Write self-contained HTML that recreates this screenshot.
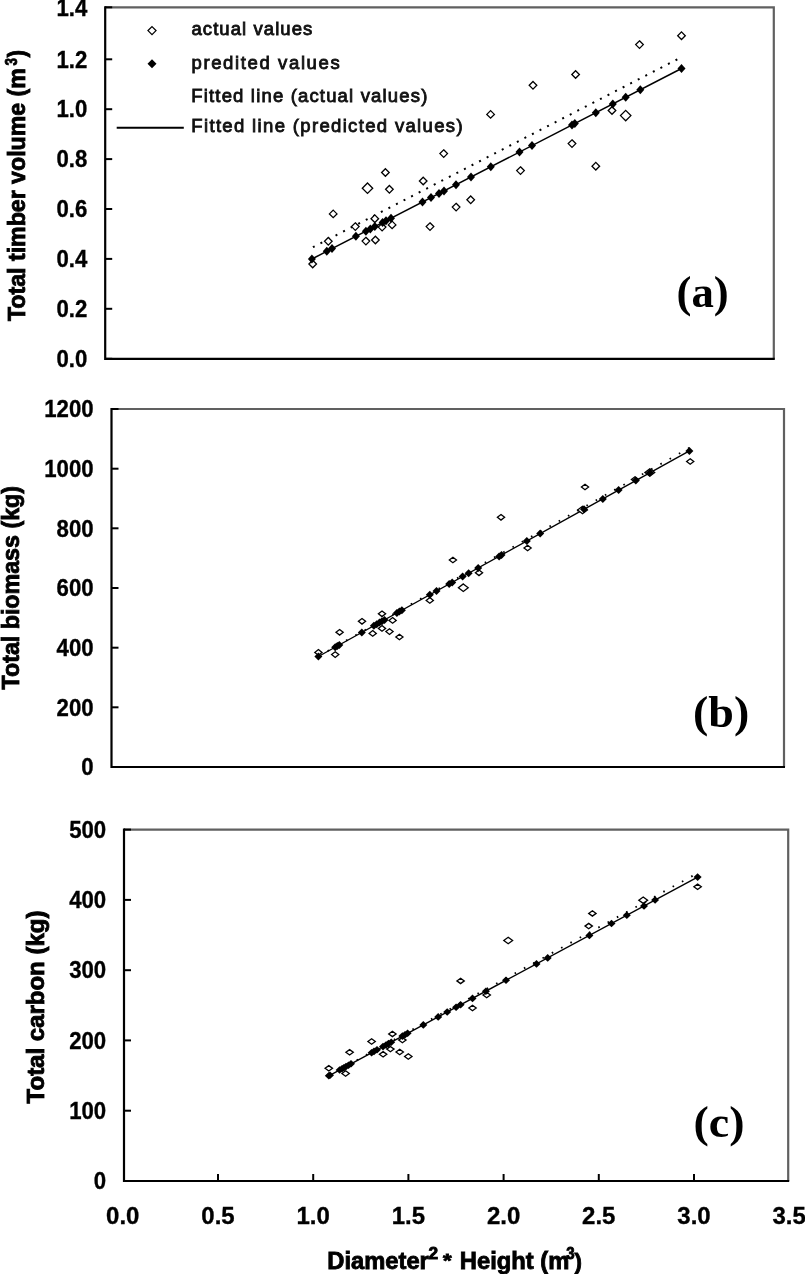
<!DOCTYPE html>
<html><head><meta charset="utf-8"><title>Figure</title><style>
html,body{margin:0;padding:0;background:#fff;}
body{width:805px;height:1274px;overflow:hidden;}
svg{display:block;filter:blur(0.3px);}
.tk{font-family:'Liberation Sans', Arial, sans-serif;font-weight:bold;font-size:24.0px;fill:#000;stroke:#000;stroke-width:0.35px;}
.ttl{font-family:'Liberation Sans', Arial, sans-serif;font-weight:bold;font-size:23px;fill:#000;stroke:#000;stroke-width:0.85px;}
.lg{font-family:'Liberation Sans', Arial, sans-serif;font-weight:normal;font-size:18.5px;fill:#111;stroke:#111;stroke-width:0.85px;}
.pl{font-family:'Liberation Serif', 'Times New Roman', serif;font-weight:bold;font-size:46px;fill:#000;}
</style></head>
<body><svg width="805" height="1274" viewBox="0 0 805 1274">
<rect width="805" height="1274" fill="#fff"/>
<path d="M105.2 7.3H773.8V358.8" fill="none" stroke="#606060" stroke-width="2.2"/>
<path d="M105.2 6.3V358.8H774.8" fill="none" stroke="#000" stroke-width="2.2"/>
<path d="M111.5 409.0H784.0V767.0" fill="none" stroke="#606060" stroke-width="2.2"/>
<path d="M111.5 408.0V767.0H785.0" fill="none" stroke="#000" stroke-width="2.2"/>
<path d="M124.0 829.6H788.2V1181.0" fill="none" stroke="#606060" stroke-width="2.2"/>
<path d="M124.0 828.6V1181.0H789.2" fill="none" stroke="#000" stroke-width="2.2"/>
<line x1="105.2" y1="7.3" x2="112.2" y2="7.3" stroke="#000" stroke-width="2"/>
<text transform="translate(87.3,15.5) scale(0.925,1)" text-anchor="end" class="tk">1.4</text>
<line x1="105.2" y1="59.3" x2="112.2" y2="59.3" stroke="#000" stroke-width="2"/>
<text transform="translate(87.3,67.5) scale(0.925,1)" text-anchor="end" class="tk">1.2</text>
<line x1="105.2" y1="109.2" x2="112.2" y2="109.2" stroke="#000" stroke-width="2"/>
<text transform="translate(87.3,117.4) scale(0.925,1)" text-anchor="end" class="tk">1.0</text>
<line x1="105.2" y1="159.1" x2="112.2" y2="159.1" stroke="#000" stroke-width="2"/>
<text transform="translate(87.3,167.3) scale(0.925,1)" text-anchor="end" class="tk">0.8</text>
<line x1="105.2" y1="209.0" x2="112.2" y2="209.0" stroke="#000" stroke-width="2"/>
<text transform="translate(87.3,217.2) scale(0.925,1)" text-anchor="end" class="tk">0.6</text>
<line x1="105.2" y1="258.9" x2="112.2" y2="258.9" stroke="#000" stroke-width="2"/>
<text transform="translate(87.3,267.1) scale(0.925,1)" text-anchor="end" class="tk">0.4</text>
<line x1="105.2" y1="308.8" x2="112.2" y2="308.8" stroke="#000" stroke-width="2"/>
<text transform="translate(87.3,317.0) scale(0.925,1)" text-anchor="end" class="tk">0.2</text>
<line x1="105.2" y1="358.8" x2="112.2" y2="358.8" stroke="#000" stroke-width="2"/>
<text transform="translate(87.3,367.0) scale(0.925,1)" text-anchor="end" class="tk">0.0</text>
<line x1="111.5" y1="767.0" x2="118.5" y2="767.0" stroke="#000" stroke-width="2"/>
<text transform="translate(93.6,775.2) scale(0.925,1)" text-anchor="end" class="tk">0</text>
<line x1="111.5" y1="707.3" x2="118.5" y2="707.3" stroke="#000" stroke-width="2"/>
<text transform="translate(93.6,715.5) scale(0.925,1)" text-anchor="end" class="tk">200</text>
<line x1="111.5" y1="647.7" x2="118.5" y2="647.7" stroke="#000" stroke-width="2"/>
<text transform="translate(93.6,655.9) scale(0.925,1)" text-anchor="end" class="tk">400</text>
<line x1="111.5" y1="588.0" x2="118.5" y2="588.0" stroke="#000" stroke-width="2"/>
<text transform="translate(93.6,596.2) scale(0.925,1)" text-anchor="end" class="tk">600</text>
<line x1="111.5" y1="528.3" x2="118.5" y2="528.3" stroke="#000" stroke-width="2"/>
<text transform="translate(93.6,536.5) scale(0.925,1)" text-anchor="end" class="tk">800</text>
<line x1="111.5" y1="468.7" x2="118.5" y2="468.7" stroke="#000" stroke-width="2"/>
<text transform="translate(93.6,476.9) scale(0.925,1)" text-anchor="end" class="tk">1000</text>
<line x1="111.5" y1="409.0" x2="118.5" y2="409.0" stroke="#000" stroke-width="2"/>
<text transform="translate(93.6,417.2) scale(0.925,1)" text-anchor="end" class="tk">1200</text>
<line x1="124.0" y1="1181.0" x2="131.0" y2="1181.0" stroke="#000" stroke-width="2"/>
<text transform="translate(106.2,1189.2) scale(0.925,1)" text-anchor="end" class="tk">0</text>
<line x1="124.0" y1="1110.7" x2="131.0" y2="1110.7" stroke="#000" stroke-width="2"/>
<text transform="translate(106.2,1118.9) scale(0.925,1)" text-anchor="end" class="tk">100</text>
<line x1="124.0" y1="1040.4" x2="131.0" y2="1040.4" stroke="#000" stroke-width="2"/>
<text transform="translate(106.2,1048.6) scale(0.925,1)" text-anchor="end" class="tk">200</text>
<line x1="124.0" y1="970.2" x2="131.0" y2="970.2" stroke="#000" stroke-width="2"/>
<text transform="translate(106.2,978.4) scale(0.925,1)" text-anchor="end" class="tk">300</text>
<line x1="124.0" y1="899.9" x2="131.0" y2="899.9" stroke="#000" stroke-width="2"/>
<text transform="translate(106.2,908.1) scale(0.925,1)" text-anchor="end" class="tk">400</text>
<line x1="124.0" y1="829.6" x2="131.0" y2="829.6" stroke="#000" stroke-width="2"/>
<text transform="translate(106.2,837.8) scale(0.925,1)" text-anchor="end" class="tk">500</text>
<text transform="translate(122.8,1224.0) scale(1.0,0.98)" text-anchor="middle" class="tk">0.0</text>
<line x1="218.0" y1="1181" x2="218.0" y2="1174.0" stroke="#000" stroke-width="2"/>
<text transform="translate(218.0,1224.0) scale(1.0,0.98)" text-anchor="middle" class="tk">0.5</text>
<line x1="313.2" y1="1181" x2="313.2" y2="1174.0" stroke="#000" stroke-width="2"/>
<text transform="translate(313.2,1224.0) scale(1.0,0.98)" text-anchor="middle" class="tk">1.0</text>
<line x1="408.4" y1="1181" x2="408.4" y2="1174.0" stroke="#000" stroke-width="2"/>
<text transform="translate(408.4,1224.0) scale(1.0,0.98)" text-anchor="middle" class="tk">1.5</text>
<line x1="503.6" y1="1181" x2="503.6" y2="1174.0" stroke="#000" stroke-width="2"/>
<text transform="translate(503.6,1224.0) scale(1.0,0.98)" text-anchor="middle" class="tk">2.0</text>
<line x1="598.8" y1="1181" x2="598.8" y2="1174.0" stroke="#000" stroke-width="2"/>
<text transform="translate(598.8,1224.0) scale(1.0,0.98)" text-anchor="middle" class="tk">2.5</text>
<line x1="694.0" y1="1181" x2="694.0" y2="1174.0" stroke="#000" stroke-width="2"/>
<text transform="translate(694.0,1224.0) scale(1.0,0.98)" text-anchor="middle" class="tk">3.0</text>
<text transform="translate(789.2,1224.0) scale(1.0,0.98)" text-anchor="middle" class="tk">3.5</text>
<text class="ttl" style="font-size:23px" transform="translate(25.1,321.1) rotate(-90)" textLength="253.0" lengthAdjust="spacingAndGlyphs">Total timber volume (m</text>
<text class="ttl" style="font-size:16.5px" transform="translate(16.6,65.4) rotate(-90)" textLength="7.5" lengthAdjust="spacingAndGlyphs">3</text>
<text class="ttl" style="font-size:23px" transform="translate(25.1,57.6) rotate(-90)" textLength="7.6" lengthAdjust="spacingAndGlyphs">)</text>
<text class="ttl" style="font-size:23px" transform="translate(19.0,689.5) rotate(-90)" textLength="203.5" lengthAdjust="spacingAndGlyphs">Total biomass (kg)</text>
<text class="ttl" style="font-size:23px" transform="translate(43.9,1103.4) rotate(-90)" textLength="192.8" lengthAdjust="spacingAndGlyphs">Total carbon (kg)</text>
<text class="ttl" style="font-size:23.5px" x="327.3" y="1269.0" textLength="101.5" lengthAdjust="spacingAndGlyphs">Diameter</text>
<text class="ttl" style="font-size:16px" x="428.4" y="1258.8" textLength="9.6" lengthAdjust="spacingAndGlyphs">2</text>
<text class="ttl" style="font-size:18px" x="443.0" y="1266.5" textLength="8.6" lengthAdjust="spacingAndGlyphs">*</text>
<text class="ttl" style="font-size:23.5px" x="459.8" y="1269.0" textLength="109.5" lengthAdjust="spacingAndGlyphs">Height (m</text>
<text class="ttl" style="font-size:16px" x="566.2" y="1259.0" textLength="8.4" lengthAdjust="spacingAndGlyphs">3</text>
<text class="ttl" style="font-size:22px" x="574.6" y="1269.0" textLength="7.4" lengthAdjust="spacingAndGlyphs">)</text>
<text class="pl" transform="translate(676.5,307.3) scale(0.975,0.95)">(a)</text>
<text class="pl" transform="translate(693.0,726.6) scale(1.0,0.94)">(b)</text>
<text class="pl" transform="translate(693.5,1136.6) scale(1.0,0.94)">(c)</text>
<path d="M152.0 26.6L156.0 30.6L152.0 34.6L148.0 30.6Z" fill="#fff" stroke="#000" stroke-width="1.3"/>
<path d="M152.0 59.3L156.5 63.8L152.0 68.3L147.5 63.8Z" fill="#000"/>
<line x1="116.7" y1="127.8" x2="183.8" y2="127.8" stroke="#000" stroke-width="2"/>
<text class="lg" x="191.5" y="35.2" textLength="120.8" lengthAdjust="spacing">actual values</text>
<text class="lg" x="191.5" y="69.0" textLength="148.2" lengthAdjust="spacing">predited values</text>
<text class="lg" x="191.3" y="102.2" textLength="236.0" lengthAdjust="spacing">Fitted line (actual values)</text>
<text class="lg" x="191.3" y="132.4" textLength="271.3" lengthAdjust="spacing">Fitted line (predicted values)</text>
<line x1="312.9" y1="247.2" x2="679.5" y2="58.2" stroke="#000" stroke-width="2" stroke-dasharray="2 6.5"/>
<line x1="311.9" y1="259.0" x2="681.5" y2="68.5" stroke="#000" stroke-width="1.45"/>
<path d="M312.7 260.2L316.5 264.0L312.7 267.8L308.9 264.0Z" fill="#fff" stroke="#000" stroke-width="1.3"/>
<path d="M328.3 237.5L332.1 241.3L328.3 245.1L324.5 241.3Z" fill="#fff" stroke="#000" stroke-width="1.3"/>
<path d="M333.2 210.1L337.0 213.9L333.2 217.7L329.4 213.9Z" fill="#fff" stroke="#000" stroke-width="1.3"/>
<path d="M355.3 222.8L359.1 226.6L355.3 230.4L351.5 226.6Z" fill="#fff" stroke="#000" stroke-width="1.3"/>
<path d="M367.5 183.0L372.7 188.2L367.5 193.4L362.3 188.2Z" fill="#fff" stroke="#000" stroke-width="1.3"/>
<path d="M365.9 237.3L369.7 241.1L365.9 244.9L362.1 241.1Z" fill="#fff" stroke="#000" stroke-width="1.3"/>
<path d="M374.8 214.9L378.6 218.7L374.8 222.5L371.0 218.7Z" fill="#fff" stroke="#000" stroke-width="1.3"/>
<path d="M375.4 236.2L379.2 240.0L375.4 243.8L371.6 240.0Z" fill="#fff" stroke="#000" stroke-width="1.3"/>
<path d="M382.1 223.3L385.9 227.1L382.1 230.9L378.3 227.1Z" fill="#fff" stroke="#000" stroke-width="1.3"/>
<path d="M385.4 168.7L389.2 172.5L385.4 176.3L381.6 172.5Z" fill="#fff" stroke="#000" stroke-width="1.3"/>
<path d="M389.4 185.5L393.2 189.3L389.4 193.1L385.6 189.3Z" fill="#fff" stroke="#000" stroke-width="1.3"/>
<path d="M392.1 221.1L395.9 224.9L392.1 228.7L388.3 224.9Z" fill="#fff" stroke="#000" stroke-width="1.3"/>
<path d="M423.2 177.2L427.0 181.0L423.2 184.8L419.4 181.0Z" fill="#fff" stroke="#000" stroke-width="1.3"/>
<path d="M430.0 222.8L433.8 226.6L430.0 230.4L426.2 226.6Z" fill="#fff" stroke="#000" stroke-width="1.3"/>
<path d="M443.7 149.8L447.5 153.6L443.7 157.4L439.9 153.6Z" fill="#fff" stroke="#000" stroke-width="1.3"/>
<path d="M456.1 203.3L459.9 207.1L456.1 210.9L452.3 207.1Z" fill="#fff" stroke="#000" stroke-width="1.3"/>
<path d="M470.7 196.0L474.5 199.8L470.7 203.6L466.9 199.8Z" fill="#fff" stroke="#000" stroke-width="1.3"/>
<path d="M490.6 110.6L494.4 114.4L490.6 118.2L486.8 114.4Z" fill="#fff" stroke="#000" stroke-width="1.3"/>
<path d="M520.5 166.8L524.3 170.6L520.5 174.4L516.7 170.6Z" fill="#fff" stroke="#000" stroke-width="1.3"/>
<path d="M533.0 81.5L536.8 85.3L533.0 89.1L529.2 85.3Z" fill="#fff" stroke="#000" stroke-width="1.3"/>
<path d="M572.0 139.8L575.8 143.6L572.0 147.4L568.2 143.6Z" fill="#fff" stroke="#000" stroke-width="1.3"/>
<path d="M575.6 70.7L579.4 74.5L575.6 78.3L571.8 74.5Z" fill="#fff" stroke="#000" stroke-width="1.3"/>
<path d="M595.8 162.4L599.6 166.2L595.8 170.0L592.0 166.2Z" fill="#fff" stroke="#000" stroke-width="1.3"/>
<path d="M612.0 106.7L615.8 110.5L612.0 114.3L608.2 110.5Z" fill="#fff" stroke="#000" stroke-width="1.3"/>
<path d="M625.7 110.4L630.9 115.6L625.7 120.8L620.5 115.6Z" fill="#fff" stroke="#000" stroke-width="1.3"/>
<path d="M639.5 40.8L643.3 44.6L639.5 48.4L635.7 44.6Z" fill="#fff" stroke="#000" stroke-width="1.3"/>
<path d="M681.5 31.9L685.3 35.7L681.5 39.5L677.7 35.7Z" fill="#fff" stroke="#000" stroke-width="1.3"/>
<path d="M311.9 254.5L315.9 259.0L311.9 263.5L307.9 259.0Z" fill="#000"/>
<path d="M326.8 246.8L330.8 251.3L326.8 255.8L322.8 251.3Z" fill="#000"/>
<path d="M332.0 244.1L336.0 248.6L332.0 253.1L328.0 248.6Z" fill="#000"/>
<path d="M355.9 231.8L359.9 236.3L355.9 240.8L351.9 236.3Z" fill="#000"/>
<path d="M365.9 226.7L369.9 231.2L365.9 235.7L361.9 231.2Z" fill="#000"/>
<path d="M370.3 224.4L374.3 228.9L370.3 233.4L366.3 228.9Z" fill="#000"/>
<path d="M374.8 222.1L378.8 226.6L374.8 231.1L370.8 226.6Z" fill="#000"/>
<path d="M382.6 218.1L386.6 222.6L382.6 227.1L378.6 222.6Z" fill="#000"/>
<path d="M386.0 216.3L390.0 220.8L386.0 225.3L382.0 220.8Z" fill="#000"/>
<path d="M391.0 213.7L395.0 218.2L391.0 222.7L387.0 218.2Z" fill="#000"/>
<path d="M422.5 197.5L426.5 202.0L422.5 206.5L418.5 202.0Z" fill="#000"/>
<path d="M431.0 193.1L435.0 197.6L431.0 202.1L427.0 197.6Z" fill="#000"/>
<path d="M439.0 189.0L443.0 193.5L439.0 198.0L435.0 193.5Z" fill="#000"/>
<path d="M444.0 186.4L448.0 190.9L444.0 195.4L440.0 190.9Z" fill="#000"/>
<path d="M456.0 180.2L460.0 184.7L456.0 189.2L452.0 184.7Z" fill="#000"/>
<path d="M471.0 172.5L475.0 177.0L471.0 181.5L467.0 177.0Z" fill="#000"/>
<path d="M490.8 162.3L494.8 166.8L490.8 171.3L486.8 166.8Z" fill="#000"/>
<path d="M519.5 147.5L523.5 152.0L519.5 156.5L515.5 152.0Z" fill="#000"/>
<path d="M532.0 141.1L536.0 145.6L532.0 150.1L528.0 145.6Z" fill="#000"/>
<path d="M572.0 120.4L576.0 124.9L572.0 129.4L568.0 124.9Z" fill="#000"/>
<path d="M574.8 119.0L578.8 123.5L574.8 128.0L570.8 123.5Z" fill="#000"/>
<path d="M595.8 108.2L599.8 112.7L595.8 117.2L591.8 112.7Z" fill="#000"/>
<path d="M612.8 99.4L616.8 103.9L612.8 108.4L608.8 103.9Z" fill="#000"/>
<path d="M625.7 92.8L629.7 97.3L625.7 101.8L621.7 97.3Z" fill="#000"/>
<path d="M640.3 85.2L644.3 89.7L640.3 94.2L636.3 89.7Z" fill="#000"/>
<path d="M681.5 64.0L685.5 68.5L681.5 73.0L677.5 68.5Z" fill="#000"/>
<line x1="318.4" y1="656.2" x2="689.4" y2="447.9" stroke="#000" stroke-width="1.8" stroke-dasharray="1.6 9"/>
<line x1="318.4" y1="656.5" x2="689.4" y2="450.9" stroke="#000" stroke-width="1.4"/>
<path d="M318.4 649.6L322.0 652.4L318.4 655.2L314.8 652.4Z" fill="#fff" stroke="#000" stroke-width="1.3"/>
<path d="M335.2 651.8L338.8 654.6L335.2 657.4L331.6 654.6Z" fill="#fff" stroke="#000" stroke-width="1.3"/>
<path d="M339.6 629.5L343.2 632.3L339.6 635.1L336.0 632.3Z" fill="#fff" stroke="#000" stroke-width="1.3"/>
<path d="M362.0 618.5L365.6 621.3L362.0 624.1L358.4 621.3Z" fill="#fff" stroke="#000" stroke-width="1.3"/>
<path d="M372.7 630.6L376.3 633.4L372.7 636.2L369.1 633.4Z" fill="#fff" stroke="#000" stroke-width="1.3"/>
<path d="M382.0 611.0L385.6 613.8L382.0 616.6L378.4 613.8Z" fill="#fff" stroke="#000" stroke-width="1.3"/>
<path d="M382.0 625.6L385.6 628.4L382.0 631.2L378.4 628.4Z" fill="#fff" stroke="#000" stroke-width="1.3"/>
<path d="M389.5 628.8L393.1 631.6L389.5 634.4L385.9 631.6Z" fill="#fff" stroke="#000" stroke-width="1.3"/>
<path d="M392.6 617.6L396.2 620.4L392.6 623.2L389.0 620.4Z" fill="#fff" stroke="#000" stroke-width="1.3"/>
<path d="M399.4 634.2L403.0 637.0L399.4 639.8L395.8 637.0Z" fill="#fff" stroke="#000" stroke-width="1.3"/>
<path d="M429.8 597.6L433.4 600.4L429.8 603.2L426.2 600.4Z" fill="#fff" stroke="#000" stroke-width="1.3"/>
<path d="M452.9 557.2L456.5 560.0L452.9 562.8L449.3 560.0Z" fill="#fff" stroke="#000" stroke-width="1.3"/>
<path d="M463.3 583.9L468.2 587.7L463.3 591.5L458.4 587.7Z" fill="#fff" stroke="#000" stroke-width="1.3"/>
<path d="M479.0 570.0L482.6 572.8L479.0 575.6L475.4 572.8Z" fill="#fff" stroke="#000" stroke-width="1.3"/>
<path d="M501.0 514.5L504.6 517.3L501.0 520.1L497.4 517.3Z" fill="#fff" stroke="#000" stroke-width="1.3"/>
<path d="M527.6 545.2L531.2 548.0L527.6 550.8L524.0 548.0Z" fill="#fff" stroke="#000" stroke-width="1.3"/>
<path d="M582.5 506.2L587.4 510.0L582.5 513.8L577.6 510.0Z" fill="#fff" stroke="#000" stroke-width="1.3"/>
<path d="M585.0 484.2L588.6 487.0L585.0 489.8L581.4 487.0Z" fill="#fff" stroke="#000" stroke-width="1.3"/>
<path d="M635.0 476.7L638.6 479.5L635.0 482.3L631.4 479.5Z" fill="#fff" stroke="#000" stroke-width="1.3"/>
<path d="M649.8 468.7L654.7 472.5L649.8 476.3L644.9 472.5Z" fill="#fff" stroke="#000" stroke-width="1.3"/>
<path d="M690.2 458.7L693.8 461.5L690.2 464.3L686.6 461.5Z" fill="#fff" stroke="#000" stroke-width="1.3"/>
<path d="M318.4 652.5L322.4 656.5L318.4 660.5L314.4 656.5Z" fill="#000"/>
<path d="M335.2 643.2L339.2 647.2L335.2 651.2L331.2 647.2Z" fill="#000"/>
<path d="M337.3 642.0L341.3 646.0L337.3 650.0L333.3 646.0Z" fill="#000"/>
<path d="M339.3 640.9L343.3 644.9L339.3 648.9L335.3 644.9Z" fill="#000"/>
<path d="M361.8 628.4L365.8 632.4L361.8 636.4L357.8 632.4Z" fill="#000"/>
<path d="M373.9 621.7L377.9 625.7L373.9 629.7L369.9 625.7Z" fill="#000"/>
<path d="M376.7 620.2L380.7 624.2L376.7 628.2L372.7 624.2Z" fill="#000"/>
<path d="M379.5 618.6L383.5 622.6L379.5 626.6L375.5 622.6Z" fill="#000"/>
<path d="M382.0 617.3L386.0 621.3L382.0 625.3L378.0 621.3Z" fill="#000"/>
<path d="M384.5 615.9L388.5 619.9L384.5 623.9L380.5 619.9Z" fill="#000"/>
<path d="M396.9 609.0L400.9 613.0L396.9 617.0L392.9 613.0Z" fill="#000"/>
<path d="M399.4 607.6L403.4 611.6L399.4 615.6L395.4 611.6Z" fill="#000"/>
<path d="M401.9 606.2L405.9 610.2L401.9 614.2L397.9 610.2Z" fill="#000"/>
<path d="M429.8 590.8L433.8 594.8L429.8 598.8L425.8 594.8Z" fill="#000"/>
<path d="M436.5 587.1L440.5 591.1L436.5 595.1L432.5 591.1Z" fill="#000"/>
<path d="M449.2 580.0L453.2 584.0L449.2 588.0L445.2 584.0Z" fill="#000"/>
<path d="M452.2 578.4L456.2 582.4L452.2 586.4L448.2 582.4Z" fill="#000"/>
<path d="M462.6 572.6L466.6 576.6L462.6 580.6L458.6 576.6Z" fill="#000"/>
<path d="M468.6 569.3L472.6 573.3L468.6 577.3L464.6 573.3Z" fill="#000"/>
<path d="M478.2 563.9L482.2 567.9L478.2 571.9L474.2 567.9Z" fill="#000"/>
<path d="M499.1 552.4L503.1 556.4L499.1 560.4L495.1 556.4Z" fill="#000"/>
<path d="M501.5 551.0L505.5 555.0L501.5 559.0L497.5 555.0Z" fill="#000"/>
<path d="M526.8 537.0L530.8 541.0L526.8 545.0L522.8 541.0Z" fill="#000"/>
<path d="M540.2 529.6L544.2 533.6L540.2 537.6L536.2 533.6Z" fill="#000"/>
<path d="M584.0 505.3L588.0 509.3L584.0 513.3L580.0 509.3Z" fill="#000"/>
<path d="M602.8 494.9L606.8 498.9L602.8 502.9L598.8 498.9Z" fill="#000"/>
<path d="M618.6 486.1L622.6 490.1L618.6 494.1L614.6 490.1Z" fill="#000"/>
<path d="M635.8 476.6L639.8 480.6L635.8 484.6L631.8 480.6Z" fill="#000"/>
<path d="M649.9 468.8L653.9 472.8L649.9 476.8L645.9 472.8Z" fill="#000"/>
<path d="M689.4 446.9L693.4 450.9L689.4 454.9L685.4 450.9Z" fill="#000"/>
<line x1="328.8" y1="1075.5" x2="697.6" y2="873.1" stroke="#000" stroke-width="1.8" stroke-dasharray="1.6 9"/>
<line x1="328.8" y1="1075.8" x2="697.6" y2="877.1" stroke="#000" stroke-width="1.4"/>
<path d="M328.8 1065.6L332.5 1068.3L328.8 1071.0L325.1 1068.3Z" fill="#fff" stroke="#000" stroke-width="1.3"/>
<path d="M345.6 1070.8L349.3 1073.5L345.6 1076.2L341.9 1073.5Z" fill="#fff" stroke="#000" stroke-width="1.3"/>
<path d="M349.6 1049.6L353.3 1052.3L349.6 1055.0L345.9 1052.3Z" fill="#fff" stroke="#000" stroke-width="1.3"/>
<path d="M371.6 1038.8L375.3 1041.5L371.6 1044.2L367.9 1041.5Z" fill="#fff" stroke="#000" stroke-width="1.3"/>
<path d="M383.1 1051.6L386.8 1054.3L383.1 1057.0L379.4 1054.3Z" fill="#fff" stroke="#000" stroke-width="1.3"/>
<path d="M390.4 1046.4L394.1 1049.1L390.4 1051.8L386.7 1049.1Z" fill="#fff" stroke="#000" stroke-width="1.3"/>
<path d="M392.4 1031.2L396.1 1033.9L392.4 1036.6L388.7 1033.9Z" fill="#fff" stroke="#000" stroke-width="1.3"/>
<path d="M399.7 1049.3L403.4 1052.0L399.7 1054.7L396.0 1052.0Z" fill="#fff" stroke="#000" stroke-width="1.3"/>
<path d="M408.3 1053.8L412.0 1056.5L408.3 1059.2L404.6 1056.5Z" fill="#fff" stroke="#000" stroke-width="1.3"/>
<path d="M402.4 1037.4L406.1 1040.1L402.4 1042.8L398.7 1040.1Z" fill="#fff" stroke="#000" stroke-width="1.3"/>
<path d="M460.6 978.2L464.3 980.9L460.6 983.6L456.9 980.9Z" fill="#fff" stroke="#000" stroke-width="1.3"/>
<path d="M472.5 1005.3L476.2 1008.0L472.5 1010.7L468.8 1008.0Z" fill="#fff" stroke="#000" stroke-width="1.3"/>
<path d="M486.7 992.3L490.4 995.0L486.7 997.7L483.0 995.0Z" fill="#fff" stroke="#000" stroke-width="1.3"/>
<path d="M508.2 937.3L512.6 940.5L508.2 943.7L503.8 940.5Z" fill="#fff" stroke="#000" stroke-width="1.3"/>
<path d="M588.7 923.4L592.4 926.1L588.7 928.8L585.0 926.1Z" fill="#fff" stroke="#000" stroke-width="1.3"/>
<path d="M592.4 910.7L596.1 913.4L592.4 916.1L588.7 913.4Z" fill="#fff" stroke="#000" stroke-width="1.3"/>
<path d="M643.2 897.0L647.6 900.2L643.2 903.4L638.8 900.2Z" fill="#fff" stroke="#000" stroke-width="1.3"/>
<path d="M697.6 884.1L701.3 886.8L697.6 889.5L693.9 886.8Z" fill="#fff" stroke="#000" stroke-width="1.3"/>
<path d="M328.8 1072.0L332.8 1075.8L328.8 1079.6L324.8 1075.8Z" fill="#000"/>
<path d="M330.0 1071.4L334.0 1075.2L330.0 1079.0L326.0 1075.2Z" fill="#000"/>
<path d="M339.6 1066.2L343.6 1070.0L339.6 1073.8L335.6 1070.0Z" fill="#000"/>
<path d="M342.0 1064.9L346.0 1068.7L342.0 1072.5L338.0 1068.7Z" fill="#000"/>
<path d="M343.9 1063.9L347.9 1067.7L343.9 1071.5L339.9 1067.7Z" fill="#000"/>
<path d="M346.0 1062.7L350.0 1066.5L346.0 1070.3L342.0 1066.5Z" fill="#000"/>
<path d="M348.5 1061.4L352.5 1065.2L348.5 1069.0L344.5 1065.2Z" fill="#000"/>
<path d="M351.0 1060.0L355.0 1063.8L351.0 1067.6L347.0 1063.8Z" fill="#000"/>
<path d="M371.6 1048.9L375.6 1052.7L371.6 1056.5L367.6 1052.7Z" fill="#000"/>
<path d="M374.0 1047.6L378.0 1051.4L374.0 1055.2L370.0 1051.4Z" fill="#000"/>
<path d="M377.0 1046.0L381.0 1049.8L377.0 1053.6L373.0 1049.8Z" fill="#000"/>
<path d="M383.0 1042.8L387.0 1046.6L383.0 1050.4L379.0 1046.6Z" fill="#000"/>
<path d="M386.0 1041.2L390.0 1045.0L386.0 1048.8L382.0 1045.0Z" fill="#000"/>
<path d="M388.5 1039.8L392.5 1043.6L388.5 1047.4L384.5 1043.6Z" fill="#000"/>
<path d="M391.2 1038.4L395.2 1042.2L391.2 1046.0L387.2 1042.2Z" fill="#000"/>
<path d="M402.4 1032.3L406.4 1036.1L402.4 1039.9L398.4 1036.1Z" fill="#000"/>
<path d="M405.0 1030.9L409.0 1034.7L405.0 1038.5L401.0 1034.7Z" fill="#000"/>
<path d="M407.6 1029.5L411.6 1033.3L407.6 1037.1L403.6 1033.3Z" fill="#000"/>
<path d="M423.3 1021.1L427.3 1024.9L423.3 1028.7L419.3 1024.9Z" fill="#000"/>
<path d="M438.2 1013.1L442.2 1016.9L438.2 1020.7L434.2 1016.9Z" fill="#000"/>
<path d="M447.2 1008.2L451.2 1012.0L447.2 1015.8L443.2 1012.0Z" fill="#000"/>
<path d="M456.1 1003.4L460.1 1007.2L456.1 1011.0L452.1 1007.2Z" fill="#000"/>
<path d="M460.6 1001.0L464.6 1004.8L460.6 1008.6L456.6 1004.8Z" fill="#000"/>
<path d="M472.5 994.6L476.5 998.4L472.5 1002.2L468.5 998.4Z" fill="#000"/>
<path d="M485.9 987.4L489.9 991.2L485.9 995.0L481.9 991.2Z" fill="#000"/>
<path d="M506.0 976.5L510.0 980.3L506.0 984.1L502.0 980.3Z" fill="#000"/>
<path d="M536.5 960.1L540.5 963.9L536.5 967.7L532.5 963.9Z" fill="#000"/>
<path d="M547.7 954.1L551.7 957.9L547.7 961.7L543.7 957.9Z" fill="#000"/>
<path d="M589.4 931.6L593.4 935.4L589.4 939.2L585.4 935.4Z" fill="#000"/>
<path d="M611.5 919.7L615.5 923.5L611.5 927.3L607.5 923.5Z" fill="#000"/>
<path d="M626.8 911.4L630.8 915.2L626.8 919.0L622.8 915.2Z" fill="#000"/>
<path d="M644.0 902.2L648.0 906.0L644.0 909.8L640.0 906.0Z" fill="#000"/>
<path d="M655.1 896.2L659.1 900.0L655.1 903.8L651.1 900.0Z" fill="#000"/>
<path d="M697.6 873.3L701.6 877.1L697.6 880.9L693.6 877.1Z" fill="#000"/>
</svg></body></html>
